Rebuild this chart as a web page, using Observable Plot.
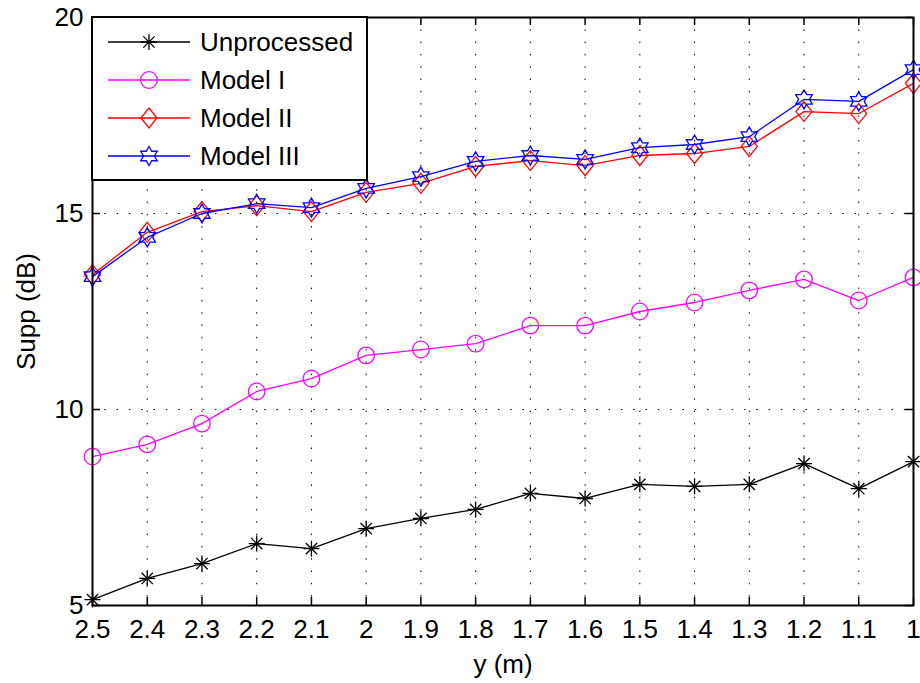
<!DOCTYPE html>
<html>
<head>
<meta charset="utf-8">
<script src="https://cdn.jsdelivr.net/npm/d3@7"></script>
<script src="https://cdn.jsdelivr.net/npm/@observablehq/plot@0.6"></script>
<style>
  body { margin: 0; background: #fff; }
</style>
</head>
<body>
<div id="chart"></div>
<script>
// Source position y (m), from far to near
const distances = [2.5, 2.4, 2.3, 2.2, 2.1, 2, 1.9, 1.8, 1.7, 1.6, 1.5, 1.4, 1.3, 1.2, 1.1, 1];

// Suppression (dB) per processing variant
const unprocessed = [5.15, 5.69, 6.07, 6.58, 6.45, 6.96, 7.22, 7.45, 7.86, 7.73, 8.09, 8.04, 8.09, 8.62, 7.98, 8.67];
const modelI      = [8.80, 9.11, 9.64, 10.46, 10.79, 11.38, 11.53, 11.68, 12.14, 12.14, 12.50, 12.73, 13.04, 13.32, 12.78, 13.37];
const modelII     = [13.44, 14.52, 15.05, 15.20, 15.05, 15.54, 15.77, 16.20, 16.35, 16.22, 16.48, 16.53, 16.71, 17.60, 17.55, 18.32];
const modelIII    = [13.39, 14.39, 15.00, 15.25, 15.15, 15.64, 15.94, 16.33, 16.48, 16.38, 16.68, 16.76, 16.96, 17.91, 17.86, 18.67];

const seriesNames  = ["Unprocessed", "Model I", "Model II", "Model III"];
const seriesValues = [unprocessed, modelI, modelII, modelIII];
const seriesColors = ["#000000", "#ff00ff", "#ff0000", "#0000ff"];

const xTicks = [2.5, 2.4, 2.3, 2.2, 2.1, 2, 1.9, 1.8, 1.7, 1.6, 1.5, 1.4, 1.3, 1.2, 1.1, 1];
const yTicks = [5, 10, 15, 20];

// Marker shapes (size is the symbol area, r = sqrt(size / PI))
const asteriskMarker = {
  draw(ctx, size) {
    const r = Math.sqrt(size / Math.PI), d = r * Math.SQRT1_2;
    ctx.moveTo(0, -r); ctx.lineTo(0, r);
    ctx.moveTo(-r, 0); ctx.lineTo(r, 0);
    ctx.moveTo(-d, -d); ctx.lineTo(d, d);
    ctx.moveTo(-d, d); ctx.lineTo(d, -d);
  }
};
const circleMarker = {
  draw(ctx, size) {
    const r = Math.sqrt(size / Math.PI);
    ctx.moveTo(r, 0);
    ctx.arc(0, 0, r, 0, 2 * Math.PI);
  }
};
const diamondMarker = {
  draw(ctx, size) {
    const r = Math.sqrt(size / Math.PI), w = r * 0.8;
    ctx.moveTo(0, -r); ctx.lineTo(w, 0); ctx.lineTo(0, r); ctx.lineTo(-w, 0);
    ctx.closePath();
  }
};
const hexagramMarker = {
  draw(ctx, size) {
    const R = Math.sqrt(size / Math.PI), ri = R / Math.sqrt(3);
    for (let k = 0; k < 12; ++k) {
      const a = -Math.PI / 2 + k * Math.PI / 6;
      const rad = k % 2 === 0 ? R : ri;
      const px = rad * Math.cos(a), py = rad * Math.sin(a);
      if (k === 0) ctx.moveTo(px, py); else ctx.lineTo(px, py);
    }
    ctx.closePath();
  }
};
const seriesMarkers = [asteriskMarker, circleMarker, diamondMarker, hexagramMarker];
const markerRadius  = [8, 8.3, 10, 9.5];

const rows = seriesNames.flatMap((name, k) =>
  seriesValues[k].map((v, i) => ({ pos: distances[i], supp: v, series: name }))
);

const fontSize = 26;
const tickLen = 8;
const W = 920, H = 683;
const mL = 92, mR = 7, mT = 17, mB = 78;
const innerW = W - mL - mR, innerH = H - mT - mB;
const dotted = "1.5,10.8";

const seriesMarks = seriesNames.flatMap((name, k) => {
  const data = rows.filter(d => d.series === name);
  return [
    Plot.line(data, { x: "pos", y: "supp", stroke: seriesColors[k], strokeWidth: 1.3 }),
    Plot.dot(data, {
      x: "pos", y: "supp", symbol: seriesMarkers[k], r: markerRadius[k],
      stroke: seriesColors[k], fill: "none", strokeWidth: 1.3
    })
  ];
});

const chart = Plot.plot({
  width: W, height: H,
  marginLeft: mL, marginRight: mR, marginTop: mT, marginBottom: mB,
  style: { fontFamily: "'Liberation Sans', Arial, Helvetica, sans-serif", fontSize: fontSize + "px", color: "#000", background: "#fff" },
  x: { domain: [2.5, 1], ticks: xTicks, tickSize: 0, tickPadding: 14, tickFormat: d => String(d), label: null },
  y: { domain: [5, 20], ticks: yTicks, tickSize: 0, tickPadding: 9, label: null },
  marks: [
    // dotted grid
    Plot.ruleX(xTicks, { x: d => d, stroke: "#000", strokeWidth: 1, strokeDasharray: dotted }),
    Plot.ruleY(yTicks, { y: d => d, stroke: "#000", strokeWidth: 1, strokeDasharray: dotted }),
    // inward tick marks on all four sides
    Plot.ruleX(xTicks, { x: d => d, stroke: "#000", strokeWidth: 1.5, insetTop: innerH - tickLen }),
    Plot.ruleX(xTicks, { x: d => d, stroke: "#000", strokeWidth: 1.5, insetBottom: innerH - tickLen }),
    Plot.ruleY(yTicks, { y: d => d, stroke: "#000", strokeWidth: 1.5, insetRight: innerW - tickLen }),
    Plot.ruleY(yTicks, { y: d => d, stroke: "#000", strokeWidth: 1.5, insetLeft: innerW - tickLen }),
    ...seriesMarks,
    Plot.frame({ stroke: "#000", strokeWidth: 2 }),
    // axis titles
    Plot.text(["y (m)"], { frameAnchor: "bottom", dy: 59, fontSize, textAnchor: "middle", lineAnchor: "middle" }),
    Plot.text(["Supp (dB)"], { frameAnchor: "left", dx: -66, rotate: -90, fontSize, textAnchor: "middle", lineAnchor: "middle" })
  ]
});

document.getElementById("chart").appendChild(chart);

// Legend box in the upper-left corner of the plotting area
const xr = chart.scale("x").range, yr = chart.scale("y").range;
const svg = d3.select(chart.tagName.toLowerCase() === "svg" ? chart : chart.querySelector("svg"));
const legend = svg.append("g")
  .attr("text-anchor", "start")
  .attr("transform", `translate(${Math.min(...xr)},${Math.min(...yr)})`);
legend.append("rect")
  .attr("width", 275).attr("height", 163)
  .attr("fill", "#fff").attr("stroke", "#000").attr("stroke-width", 2);
seriesNames.forEach((name, k) => {
  const row = legend.append("g").attr("transform", `translate(0,${25 + k * 38})`);
  row.append("line").attr("x1", 16).attr("x2", 98).attr("y1", 0).attr("y2", 0)
    .attr("stroke", seriesColors[k]).attr("stroke-width", 1.3);
  row.append("path")
    .attr("transform", "translate(57,0)")
    .attr("d", d3.symbol(seriesMarkers[k], markerRadius[k] ** 2 * Math.PI)())
    .attr("fill", "none").attr("stroke", seriesColors[k]).attr("stroke-width", 1.3);
  row.append("text").attr("x", 108).attr("y", 0).attr("dy", "0.35em")
    .attr("text-anchor", "start")
    .attr("font-size", fontSize).attr("fill", "#000").text(name);
});
</script>
</body>
</html>
